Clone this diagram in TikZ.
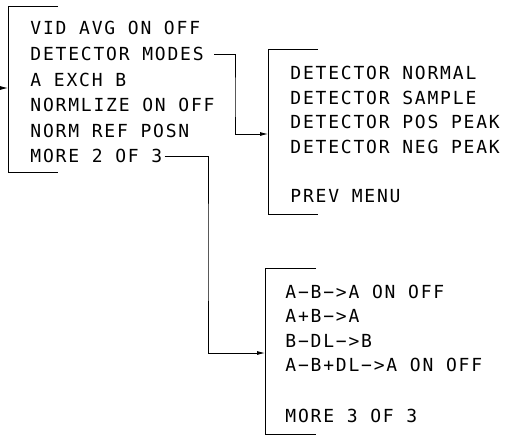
\documentclass[tikz,border=0pt]{standalone}
\usepackage{fontspec}
\newfontfamily\plotfont[LetterSpace=10]{DejaVu Sans Mono}
\usetikzlibrary{arrows.meta}

\begin{document}
\begin{tikzpicture}[x=1pt, y=-1pt, line width=0.8pt,
  item/.style={anchor=west, inner sep=0pt, text height=13pt, text depth=0pt,
    font=\plotfont\fontsize{18}{18}\selectfont},
  tip/.style={-{Latex[length=8pt,width=4pt]}}]
\useasboundingbox (0,0) rectangle (506,437);

% menu 1
\draw (58,6) -- (8,6) -- (8,172) -- (58,172);
\coordinate (inA) at (8,88);
\coordinate (srcA) at (0,88);
\draw[tip] (srcA) -- (inA);
\node[item] (vid) at (30,28) {VID AVG ON OFF};
\node[item] (modes) at (30,54) {DETECTOR MODES};
\node[item] (exch) at (30,80) {A EXCH B};
\node[item] (normlize) at (30,105) {NORMLIZE ON OFF};
\node[item] (normref) at (30,131) {NORM REF POSN};
\node[item] (moreA) at (30,156) {MORE 2 OF 3};

% menu 2
\draw (318,49) -- (268,49) -- (268,214) -- (318,214);
\coordinate (inB) at (268,134);
\node[item] (normal) at (290,73) {DETECTOR NORMAL};
\node[item] (sample) at (290,98) {DETECTOR SAMPLE};
\node[item] (pospeak) at (290,122) {DETECTOR POS PEAK};
\node[item] (negpeak) at (290,147) {DETECTOR NEG PEAK};
\node[item] (prev) at (290,196) {PREV MENU};

% menu 3
\draw (316,268) -- (265,268) -- (265,434) -- (316,434);
\coordinate (inC) at (265,353);
\node[item] (amb) at (285,292) {A−B−>A ON OFF};
\node[item] (apb) at (285,316) {A+B−>A};
\node[item] (bdl) at (285,341) {B−DL−>B};
\node[item] (ambdl) at (285,365) {A−B+DL−>A ON OFF};
\node[item] (moreB) at (285,416) {MORE 3 OF 3};

% links
\coordinate (bendB) at (235,100);
\coordinate (bendC) at (208,250);
\draw[tip] ([xshift=10pt]modes.east) -| (bendB) |- (inB);
\draw[tip] ([xshift=2pt]moreA.east) -| (bendC) |- (inC);
\end{tikzpicture}
\end{document}
